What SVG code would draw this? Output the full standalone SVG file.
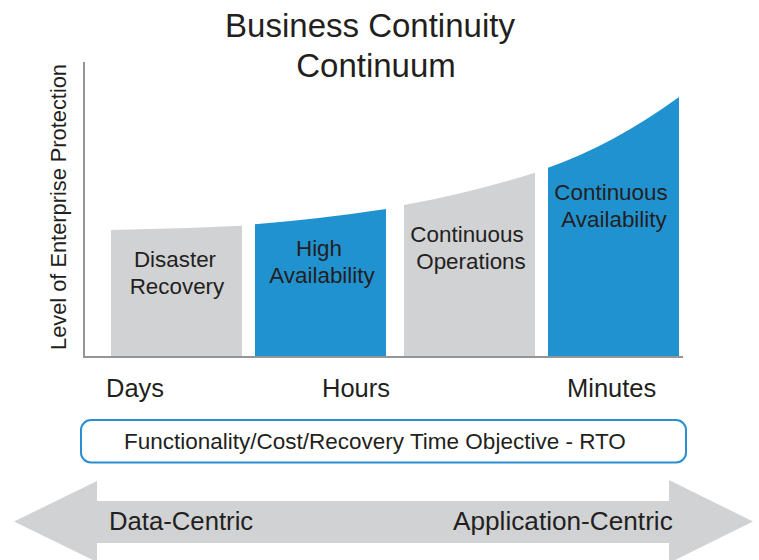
<svg xmlns="http://www.w3.org/2000/svg" width="759" height="560" viewBox="0 0 759 560">
<style>
text{font-family:"Liberation Sans",Arial,sans-serif;fill:#231f20}
.gray{fill:#d1d2d4}
.blue{fill:#2192d0}
.bar{font-size:22.4px;text-anchor:middle}
.tick{font-size:25.5px}
.axis{stroke:#939598;stroke-width:2;fill:none}
</style>
<rect width="759" height="560" fill="#ffffff"/>
<g id="title">
<text x="370" y="37" font-size="33" text-anchor="middle">Business Continuity</text>
<text x="376" y="77" font-size="33" text-anchor="middle">Continuum</text>
</g>
<g id="y-label">
<text transform="translate(66,207) rotate(-90)" font-size="21.8" text-anchor="middle">Level of Enterprise Protection</text>
</g>
<g id="connectors">
<polyline class="axis" points="84,62 84,357 683,357"/>
</g>
<g id="disaster-recovery">
<path class="gray" d="M111,356 L111,230 Q176,229 242,225.7 L242,356 Z"/>
<text class="bar" x="175" y="266.5">Disaster</text>
<text class="bar" x="177" y="293.5">Recovery</text>
</g>
<g id="high-availability">
<path class="blue" d="M255,356 L255,224.3 Q320,219 386,209 L386,356 Z"/>
<text class="bar" x="319" y="256">High</text>
<text class="bar" x="322" y="283">Availability</text>
</g>
<g id="continuous-operations">
<path class="gray" d="M404,356 L404,205 Q470,193 535,172.7 L535,356 Z"/>
<text class="bar" x="467" y="242">Continuous</text>
<text class="bar" x="471" y="269">Operations</text>
</g>
<g id="continuous-availability">
<path class="blue" d="M548,356 L548,167.7 Q613,145 679,97 L679,356 Z"/>
<text class="bar" x="611" y="200">Continuous</text>
<text class="bar" x="614" y="227">Availability</text>
</g>
<g id="time-labels">
<text class="tick" x="106" y="397">Days</text>
<text class="tick" x="322" y="397">Hours</text>
<text class="tick" x="567" y="397">Minutes</text>
</g>
<g id="rto-box">
<rect x="81" y="420" width="605" height="42.5" rx="10" ry="10" fill="#ffffff" stroke="#2a8fd0" stroke-width="2"/>
<text x="124" y="449" font-size="22.5">Functionality/Cost/Recovery Time Objective - RTO</text>
</g>
<g id="centric-arrow">
<polygon class="gray" points="14,521.5 97,481 97,501 669,501 669,480 753,521.5 669,563 669,543 97,543 97,562"/>
<text x="109" y="530" font-size="25.7">Data-Centric</text>
<text x="453" y="530" font-size="26.2">Application-Centric</text>
</g>
</svg>
